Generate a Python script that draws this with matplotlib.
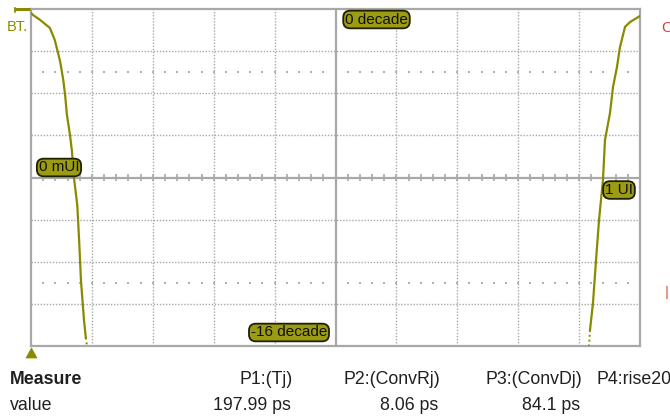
import numpy as np
import matplotlib
matplotlib.use("Agg")
import matplotlib.pyplot as plt
from matplotlib.lines import Line2D
from matplotlib.patches import Polygon

# ---- data (x in UI, y in log10 decades) ----
left_x = [0.0, 0.004, 0.015, 0.031, 0.039, 0.044, 0.048, 0.053, 0.056, 0.059,
          0.064, 0.067, 0.071, 0.076, 0.079, 0.082, 0.087, 0.090, 0.092]
left_y = [-0.19, -0.30, -0.52, -0.90, -1.47, -2.04, -2.52, -3.37, -4.08, -5.03,
          -5.98, -6.69, -8.12, -9.31, -10.97, -12.87, -14.77, -15.6, -16.0]
right_x = [1.0, 0.9836, 0.9754, 0.9672, 0.9622, 0.9557, 0.9507, 0.9425, 0.9392,
           0.9327, 0.9278, 0.9228, 0.9179, 0.9163]
right_y = [-0.33, -0.62, -0.85, -1.80, -2.75, -3.70, -4.94, -6.22, -8.12,
           -10.02, -11.92, -13.96, -15.24, -16.0]

measure_names = ["P1:(Tj)", "P2:(ConvRj)", "P3:(ConvDj)"]
measure_values = ["197.99 ps", "8.06 ps", "84.1 ps"]
extra_name = "P4:rise20"

badge_labels = ["0 decade", "-16 decade", "0 mUI", "1 UI"]

W, H = 670, 417
fig = plt.figure(figsize=(W / 100, H / 100), dpi=100)
fig.patch.set_facecolor("white")

def fx(x):
    return x / W

def fy(y):
    return 1 - y / H

L, R, T, B = 31, 640, 9, 346
ax = fig.add_axes([fx(L), fy(B), (R - L) / W, (B - T) / H])
ax.set_xlim(0, 1)
ax.set_ylim(-16, 0)
ax.set_xticks([])
ax.set_yticks([])
for s in ax.spines.values():
    s.set_color("#a8a8a8")
    s.set_linewidth(1.6)

gridc = "#a8a8a8"
for gx in np.arange(0.1, 0.95, 0.1):
    if abs(gx - 0.5) < 1e-6:
        continue
    ax.axvline(gx, color=gridc, lw=1.0, ls=(0, (1, 1.2)), zorder=1)
for gy in np.arange(-14, -1, 2):
    if gy == -8:
        continue
    ax.axhline(gy, color=gridc, lw=1.0, ls=(0, (1, 1.2)), zorder=1)

# center axes
ax.axvline(0.5, color="#a8a8a8", lw=1.6, zorder=2)
ax.axhline(-8, color="#a8a8a8", lw=1.6, zorder=2)
tx = np.arange(0.02, 1.0, 0.02)
ax.vlines(tx, -8 - 0.15, -8 + 0.15, color="#a8a8a8", lw=1.2, zorder=2)

# sparse dotted rows
for ry in (-3, -13):
    ax.scatter(tx, np.full_like(tx, ry), s=1.0, color="#b0b0b0", marker="s",
               linewidths=0, zorder=1)

curve_c = "#8a8a00"
ax.plot(left_x[:-1], left_y[:-1], color=curve_c, lw=1.6, zorder=3,
        solid_joinstyle="miter")
ax.plot(left_x[-2:], left_y[-2:], color=curve_c, lw=1.4, ls=(0, (1, 1.5)), zorder=3)
ax.plot(right_x[:-1], right_y[:-1], color=curve_c, lw=1.6, zorder=3,
        solid_joinstyle="miter")
ax.plot(right_x[-2:], right_y[-2:], color=curve_c, lw=1.4, ls=(0, (1, 1.5)), zorder=3)

# badges
badge_fc = "#9c9c14"
badge_ec = "#202000"
badge_pos = [(376.5, 19.5), (289, 332.5), (59, 167.5), (619, 190)]
for lab, (px, py) in zip(badge_labels, badge_pos):
    fig.text(fx(px), fy(py), lab, ha="center", va="center", fontsize=11,
             family="Liberation Sans", color="#101000", zorder=10,
             bbox=dict(boxstyle="round,pad=0.12,rounding_size=0.45",
                       fc=badge_fc, ec=badge_ec, lw=1.3))

# markers outside plot
fig.add_artist(Line2D([fx(14), fx(30)], [fy(8.5), fy(8.5)], color=curve_c, lw=2.2,
                      solid_capstyle="butt"))
fig.add_artist(Line2D([fx(14.5), fx(14.5)], [fy(8), fy(12)], color=curve_c, lw=1.2))
fig.text(fx(7), fy(31), "BT.", ha="left", va="baseline", fontsize=10.5,
         family="Liberation Sans", color="#8a8a00")
fig.add_artist(Polygon([[fx(26), fy(358)], [fx(37), fy(358)], [fx(31.5), fy(348)]],
                       closed=True, fc=curve_c, ec=curve_c, lw=0.5))
fig.text(fx(661), fy(32), "C", ha="left", va="baseline", fontsize=11,
         family="Liberation Sans", color="#d04040")
fig.add_artist(Line2D([fx(666.5), fx(666.5)], [fy(287), fy(298)], color="#e0a080", lw=1.5))

# measurement table
fs = 12.8
fig.text(fx(10), fy(384), "Measure", ha="left", va="baseline", fontsize=fs,
         family="Liberation Sans", weight="bold", color="#202020")
fig.text(fx(10), fy(410), "value", ha="left", va="baseline", fontsize=fs,
         family="Liberation Sans", color="#202020")
col_right = [293, 440, 582]
for name, val, cx in zip(measure_names, measure_values, col_right):
    fig.text(fx(cx), fy(384), name, ha="right", va="baseline", fontsize=fs,
             family="Liberation Sans", color="#202020")
    fig.text(fx(cx - 2), fy(410), val, ha="right", va="baseline", fontsize=fs,
             family="Liberation Sans", color="#202020")
fig.text(fx(597), fy(384), extra_name, ha="left", va="baseline", fontsize=fs,
         family="Liberation Sans", color="#202020")

fig.savefig("out.png", dpi=100, facecolor="white")
